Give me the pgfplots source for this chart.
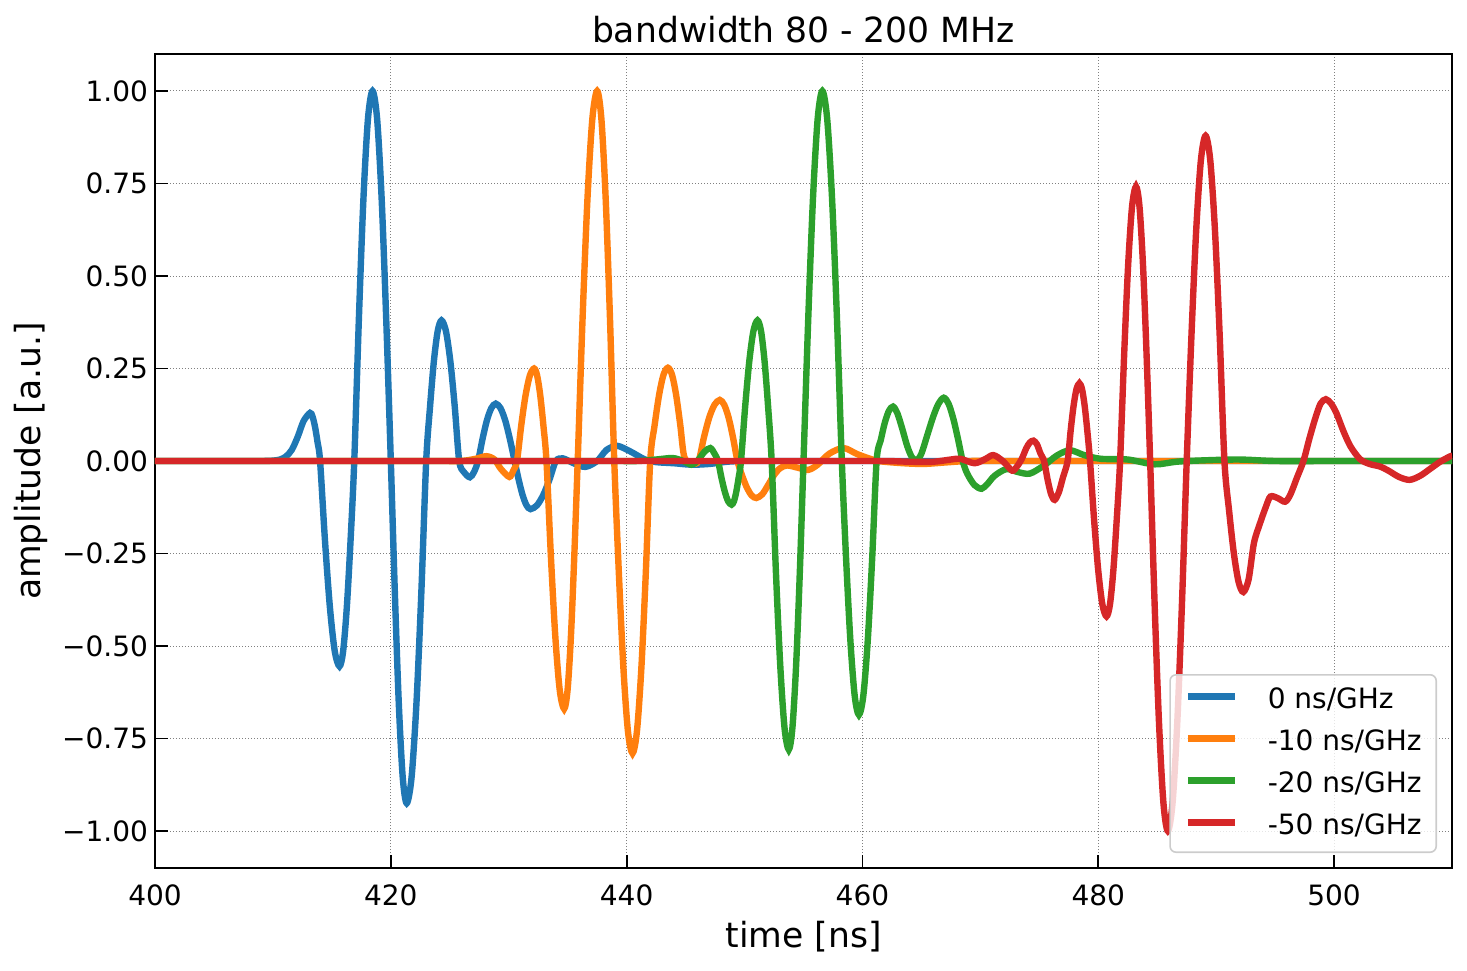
\documentclass[border=0pt]{standalone}
\usepackage{fontspec}
\setmainfont{DejaVu Sans}
\usepackage{pgfplots}
\pgfplotsset{compat=1.18}
\definecolor{c0}{HTML}{1F77B4}
\definecolor{c1}{HTML}{FF7F0E}
\definecolor{c2}{HTML}{2CA02C}
\definecolor{c3}{HTML}{D62728}
\begin{document}
\begin{tikzpicture}
\begin{axis}[
  scale only axis, width=648.5pt, height=407pt,
  xmin=400, xmax=510, ymin=-1.1, ymax=1.1,
  xtick={400,420,440,460,480,500},
  xticklabels={400,420,440,460,480,500},
  ytick={-1,-0.75,-0.5,-0.25,0,0.25,0.5,0.75,1},
  yticklabels={−1.00,−0.75,−0.50,−0.25,0.00,0.25,0.50,0.75,1.00},
  tick align=inside, xtick pos=left, ytick pos=left,
  major tick length=6.3pt,
  tick style={line width=0.9pt, black},
  axis line style={line width=0.9pt},
  grid=major,
  grid style={line width=0.5pt, gray, dash pattern=on 0.5pt off 1pt},
  ticklabel style={font=\fontsize{14}{16}\selectfont},
  xticklabel style={yshift=-4.6pt},
  title={bandwidth 80 - 200 MHz},
  title style={at={(axis description cs:0.5,1)}, anchor=base, yshift=-0.25pt, font=\fontsize{17.3}{20}\selectfont},
  xlabel={time [ns]},
  xlabel style={at={(axis description cs:0.5,0)}, anchor=base, yshift=-39.5pt, font=\fontsize{17.3}{20}\selectfont},
  ylabel={amplitude [a.u.]},
  ylabel style={at={(axis description cs:-0.0879,0.5)}, anchor=base, font=\fontsize{17.3}{20}\selectfont},
  legend cell align=left,
  legend image code/.code={\draw[#1] (0pt,2pt) -- (23.5pt,2pt);},
  legend style={at={(rel axis cs:1,0)}, anchor=south east, xshift=-7.5pt, yshift=7.5pt,
    draw=black!20, line width=0.8pt, rounded corners=3pt, fill=white, fill opacity=0.8, text opacity=1,
    font=\fontsize{14}{16}\selectfont, inner xsep=7.3pt, inner ysep=6.1pt,
    row sep=7.5pt, column sep=14.85pt,
    nodes={inner sep=0pt, text height=10.5pt, text depth=3pt}},
  every axis plot/.append style={line width=3.2pt, smooth, tension=0.5},
]
\addplot[c0] coordinates {
(400,0) (404,0) (407,0) (409,0) (410,0.001) (410.6,0.004) (411.1,0.012) (411.6,0.03) (412.1,0.065)
(412.6,0.108) (413.15,0.13) (413.36,0.12) (413.575,0.092) (413.79,0.05) (414.0,0)
(414.41,-0.212) (414.825,-0.392) (415.24,-0.513) (415.65,-0.555) (415.96,-0.513) (416.275,-0.392) (416.59,-0.212) (416.9,0)
(417.29,0.383) (417.675,0.707) (418.06,0.924) (418.45,1.0) (418.84,0.924) (419.225,0.707) (419.61,0.383) (420.0,0)
(420.34,-0.354) (420.675,-0.654) (421.01,-0.855) (421.35,-0.925) (421.76,-0.855) (422.175,-0.654) (422.59,-0.354) (423.0,0)
(423.325,0.146) (423.65,0.269) (423.975,0.351) (424.3,0.38) (424.675,0.351) (425.05,0.269) (425.425,0.146) (425.8,0)
(426.2,-0.03) (426.7,-0.044) (427.05,-0.03) (427.4,0)
(427.775,0.059) (428.15,0.11) (428.525,0.143) (428.9,0.155) (429.3,0.143) (429.7,0.11) (430.1,0.059) (430.5,0)
(430.84,-0.05) (431.175,-0.092) (431.51,-0.12) (431.85,-0.13) (432.39,-0.12) (432.925,-0.092) (433.46,-0.05) (434.0,0)
(434.6,0.007) (435.5,-0.006) (436.5,-0.016) (437.5,0) (438.3,0.03) (439.2,0.041) (440.3,0.026) (441.5,0.005)
(442.5,-0.003) (444,-0.006) (445.5,-0.01) (447,-0.008) (448.5,-0.002) (450,0)
(453,0) (460,0) (470,0) (480,0) (490,0) (500,0) (510,0)
};
\addlegendentry{0 ns/GHz}
\addplot[c1] coordinates {
(400,0) (410,0) (418,0) (422,0) (424.5,0) (426,0) (427.2,0.006) (428.1,0.013) (428.8,0.004)
(429.3,-0.02) (430.05,-0.043) (430.4,-0.025) (430.7,0)
(431.06,0.096) (431.425,0.177) (431.79,0.231) (432.15,0.25) (432.41,0.231) (432.675,0.177) (432.94,0.096) (433.2,0)
(433.575,-0.257) (433.95,-0.474) (434.325,-0.619) (434.7,-0.67) (434.99,-0.619) (435.275,-0.474) (435.56,-0.257) (435.85,0)
(436.26,0.383) (436.675,0.707) (437.09,0.924) (437.5,1.0) (437.86,0.924) (438.225,0.707) (438.59,0.383) (438.95,0)
(439.34,-0.303) (439.725,-0.559) (440.11,-0.73) (440.5,-0.79) (440.875,-0.73) (441.25,-0.559) (441.625,-0.303) (442.0,0)
(442.375,0.097) (442.75,0.178) (443.125,0.233) (443.5,0.252) (443.85,0.233) (444.2,0.178) (444.55,0.097) (444.9,0.01)
(445.6,-0.006) (446.1,0)
(446.55,0.063) (447.0,0.117) (447.45,0.152) (447.9,0.165) (448.275,0.152) (448.65,0.117) (449.025,0.063) (449.4,0)
(449.8,-0.04) (450.2,-0.072) (450.6,-0.093) (451.0,-0.1) (451.5,-0.09) (452.0,-0.065) (452.5,-0.038)
(453.0,-0.02) (453.6,-0.012) (454.5,-0.018) (455.4,-0.024) (456.2,-0.01) (457.2,0.02) (458.4,0.035)
(459.6,0.018) (461.2,0.001) (463,-0.005) (465.1,-0.008) (467,-0.004) (469,0)
(472,0) (480,0) (490,0) (500,0) (510,0)
};
\addlegendentry{-10 ns/GHz}
\addplot[c2] coordinates {
(400,0) (410,0) (420,0) (430,0) (436,0) (439,0) (441,0) (442.5,0.004) (443.9,0.008)
(444.8,0) (445.5,-0.01) (446.0,0) (446.6,0.025) (447.1,0.035) (447.45,0.02) (447.75,0)
(448.04,-0.045) (448.325,-0.083) (448.61,-0.109) (448.9,-0.118) (449.1,-0.109) (449.3,-0.083) (449.5,-0.045) (449.7,0)
(450.05,0.146) (450.4,0.269) (450.75,0.351) (451.1,0.38) (451.4,0.351) (451.7,0.269) (452.0,0.146) (452.3,0)
(452.66,-0.299) (453.025,-0.551) (453.39,-0.721) (453.75,-0.78) (454.06,-0.721) (454.375,-0.551) (454.69,-0.299) (455.0,0)
(455.4,0.383) (455.8,0.707) (456.2,0.924) (456.6,1.0) (457.01,0.924) (457.425,0.707) (457.84,0.383) (458.25,0)
(458.61,-0.263) (458.975,-0.485) (459.34,-0.634) (459.7,-0.686) (460.075,-0.634) (460.45,-0.485) (460.825,-0.263) (461.2,0)
(461.55,0.056) (461.9,0.104) (462.25,0.136) (462.6,0.147) (462.95,0.13) (463.35,0.09) (463.8,0.04) (464.2,0.01)
(464.6,0.002) (465.0,0.02) (465.5,0.07) (466.0,0.12) (466.45,0.155) (466.9,0.171) (467.3,0.155) (467.7,0.115)
(468.1,0.06) (468.5,0) (468.9,-0.035) (469.5,-0.065) (470.1,-0.075) (470.6,-0.062) (471.2,-0.04)
(472.2,-0.022) (473.2,-0.03) (474.2,-0.034) (475.4,-0.012) (476.5,0.015) (477.6,0.029) (478.8,0.016) (480.2,0.006)
(482.5,0.004) (484.8,-0.009) (487,-0.001) (491.7,0.004) (495,0) (500,0) (505,0) (510,0)
};
\addlegendentry{-20 ns/GHz}
\addplot[c3] coordinates {
(400,0) (410,0) (420,0) (430,0) (440,0) (450,0) (458,0) (462,0) (464,-0.002) (466,-0.002)
(467.5,0.004) (468.3,0.006) (469.5,-0.006) (470.4,0.005) (471.1,0.016) (471.9,0)
(472.7,-0.026) (473.1,-0.015) (473.5,0.005) (473.9,0.035) (474.2,0.05) (474.5,0.055) (474.8,0.045) (475.1,0.02) (475.4,0)
(475.7,-0.05) (476.0,-0.09) (476.3,-0.105) (476.65,-0.085) (477.0,-0.045) (477.4,0)
(477.65,0.08) (477.9,0.148) (478.15,0.194) (478.4,0.21) (478.625,0.194) (478.85,0.148) (479.075,0.08) (479.3,0)
(479.65,-0.161) (480.0,-0.297) (480.35,-0.388) (480.7,-0.42) (480.99,-0.388) (481.275,-0.297) (481.56,-0.161) (481.85,0)
(482.19,0.284) (482.525,0.525) (482.86,0.686) (483.2,0.742) (483.5,0.686) (483.8,0.525) (484.1,0.284) (484.4,0)
(484.775,-0.383) (485.15,-0.707) (485.525,-0.924) (485.9,-1.0) (486.3,-0.924) (486.7,-0.707) (487.1,-0.383) (487.5,0)
(487.9,0.337) (488.3,0.621) (488.7,0.812) (489.1,0.879) (489.5,0.812) (489.9,0.621) (490.3,0.337) (490.7,0)
(491.1,-0.136) (491.5,-0.25) (491.9,-0.327) (492.3,-0.354) (492.75,-0.32) (493.2,-0.222) (493.7,-0.17)
(494.2,-0.125) (494.6,-0.096) (495.2,-0.1) (495.85,-0.11) (496.3,-0.09) (496.85,-0.045) (497.4,0)
(497.9,0.06) (498.4,0.115) (498.85,0.155) (499.3,0.167) (499.75,0.155) (500.2,0.129) (500.8,0.08)
(501.4,0.039) (502.2,0.005) (503.0,-0.008) (503.9,-0.015) (504.6,-0.026) (505.5,-0.043) (506.4,-0.051)
(507.3,-0.04) (508.2,-0.02) (509.0,-0.002) (509.8,0.012) (510,0.014)
};
\addlegendentry{-50 ns/GHz}
\end{axis}
\pgfresetboundingbox
\path ([shift={(-77.5pt,-51pt)}]current axis.south west) rectangle ([shift={(7.5pt,27pt)}]current axis.north east);
\end{tikzpicture}
\end{document}
